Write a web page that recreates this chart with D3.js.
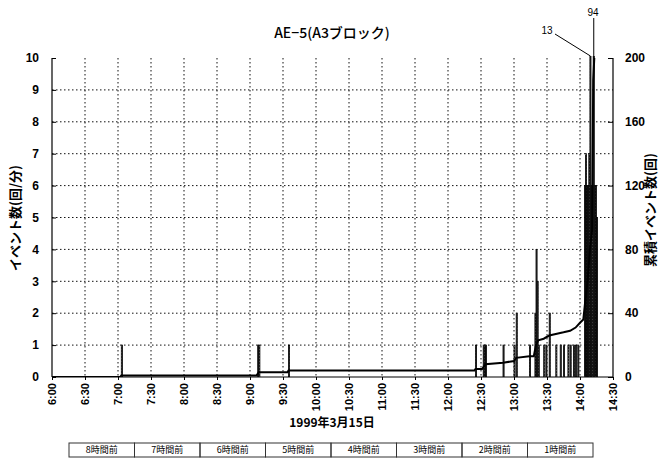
<!DOCTYPE html>
<html><head><meta charset="utf-8">
<script src="https://cdn.jsdelivr.net/npm/d3@7"></script>
<style>
html,body{margin:0;padding:0;background:#fff;}
svg{display:block;font-family:"Liberation Sans","DejaVu Sans",sans-serif;}
</style></head>
<body>
<svg id="chart" width="663" height="463"></svg>
<script>
// ---- data ----
const chartTitle = "AE\u22125(A3ブロック)";
const xTitle = "1999年3月15日";
const yLeftTitle = "イベント数(回/分)";
const yRightTitle = "累積イベント数(回)";
const xTickLabels = ["6:00","6:30","7:00","7:30","8:00","8:30","9:00","9:30","10:00","10:30","11:00","11:30","12:00","12:30","13:00","13:30","14:00","14:30"];
const yLeftTicks = [0,1,2,3,4,5,6,7,8,9,10];
const yRightTicks = [0,40,80,120,160,200];
// events per minute (bar series)
const barTimes = ["7:03","9:07","9:08","9:35","12:25","12:32","12:33","12:34","12:50","13:00","13:02","13:14",
  "13:19","13:20","13:21","13:22","13:27","13:29","13:32","13:38","13:42","13:45","13:49","13:51","13:54","13:56","13:58",
  "14:04","14:05","14:06","14:07","14:08","14:09","14:10","14:11","14:12","14:13","14:14","14:15"];
const barValues = [1,1,1,1,1,1,1,1,1,1,2,1,
  2,4,3,1,1,1,2,1,1,1,1,1,1,1,1,
  6,7,6,6,7,13,6,6,94,6,6,5];
// cumulative events (line series, right axis)
const cumTimes = ["6:00","7:02","7:03","9:06","9:08","9:34","9:35","12:24","12:25","12:31","12:34","12:50","13:00","13:02","13:14","13:18",
  "13:20","13:22","13:27","13:32","13:38","13:45","13:51","13:56","14:00","14:03","14:05","14:07","14:09","14:11","14:12","14:13"];
const cumValues = [0,0,1,1,3,3,4,4,5,5,8,9,10,12,13,13,
  20,23,24,26,27,28,29,31,34,36,49,61,80,92,186,200];
const bandLabels = ["8時間前","7時間前","6時間前","5時間前","4時間前","3時間前","2時間前","1時間前"];
const annoLabels = ["13","94"];

// ---- helpers ----
const toDate = s => { const [h,m] = s.split(":").map(Number); return new Date(1999,2,15,h,m); };

const svg = d3.select("#chart");
const L = 52, R = 613, T = 58, B = 377;

const x = d3.scaleTime().domain([toDate("6:00"), toDate("14:30")]).range([L, R]);
const yL = d3.scaleLinear().domain([0,10]).range([B, T]);
const yR = d3.scaleLinear().domain([0,200]).range([B, T]);

const defs = svg.append("defs");
defs.append("clipPath").attr("id","clip")
  .append("rect").attr("x",L).attr("y",T-2).attr("width",R-L).attr("height",B-T+2);
const pat = defs.append("pattern").attr("id","stipple").attr("patternUnits","userSpaceOnUse")
  .attr("width",3).attr("height",3);
pat.append("rect").attr("width",3).attr("height",3).attr("fill","#3c3c3c");
pat.append("rect").attr("x",1).attr("y",1).attr("width",1).attr("height",1).attr("fill","#bbb");

// grid
const tickDates = xTickLabels.map(toDate);
svg.append("g").selectAll("line").data(tickDates.slice(1,-1)).join("line")
  .attr("x1",d=>x(d)).attr("x2",d=>x(d)).attr("y1",T).attr("y2",B)
  .attr("stroke","#111").attr("stroke-width",1).attr("stroke-dasharray","1.5,2.5");
svg.append("g").selectAll("line").data(yLeftTicks.slice(1,-1)).join("line")
  .attr("x1",L).attr("x2",R).attr("y1",d=>yL(d)).attr("y2",d=>yL(d))
  .attr("stroke","#111").attr("stroke-width",1).attr("stroke-dasharray","1.5,2.5");

// bars
const bars = barTimes.map((t,i)=>({t:toDate(t), v:barValues[i]}));
svg.append("g").attr("clip-path","url(#clip)").selectAll("rect").data(bars).join("rect")
  .attr("x",d=>x(d.t))
  .attr("width",d=>Math.max(0.6, x(d3.timeMinute.offset(d.t,1))-x(d.t)))
  .attr("y",d=>yL(d.v))
  .attr("height",d=>B-yL(d.v))
  .attr("fill","url(#stipple)")
  .attr("stroke","#000").attr("stroke-width",0.8);

// cumulative line
const cum = cumTimes.map((t,i)=>({t:toDate(t), v:cumValues[i]}));
svg.append("path").datum(cum).attr("clip-path","url(#clip)")
  .attr("d", d3.line().x(d=>x(d.t)).y(d=>yR(d.v)))
  .attr("fill","none").attr("stroke","#000").attr("stroke-width",2);

// axes
const axL = svg.append("g").attr("transform",`translate(${L},0)`)
  .call(d3.axisRight(yL).tickValues(yLeftTicks).tickSize(4).tickFormat(""));
const axR = svg.append("g").attr("transform",`translate(${R},0)`)
  .call(d3.axisLeft(yR).tickValues(yRightTicks).tickSize(5).tickFormat(""));
const axB = svg.append("g").attr("transform",`translate(0,${B})`)
  .call(d3.axisBottom(x).tickValues(tickDates).tickSize(3).tickFormat((d,i)=>xTickLabels[i]));
[axL,axR,axB].forEach(a=>{a.select(".domain").attr("stroke","#000").attr("stroke-width",1.2); a.selectAll(".tick line").attr("stroke","#000");});
axB.select(".domain").attr("d",`M${L},0H${R}`);
axL.select(".domain").attr("d",`M0,${B}V${T}`);
axR.select(".domain").attr("d",`M0,${B}V${T}`);
axB.selectAll(".tick text")
  .attr("transform","rotate(-90)").attr("text-anchor","end")
  .attr("x",-6).attr("y",0).attr("dy","0.35em")
  .attr("font-size",11).attr("font-weight","bold").attr("fill","#000")
  .attr("font-family","'Liberation Sans','DejaVu Sans',sans-serif");

// left tick labels
svg.append("g").selectAll("text").data(yLeftTicks).join("text")
  .attr("x",39).attr("y",d=>yL(d)).attr("dy","0.35em").attr("text-anchor","end")
  .attr("font-size",12).attr("font-weight","bold").text(d=>d);
// right tick labels
svg.append("g").selectAll("text").data(yRightTicks).join("text")
  .attr("x",625).attr("y",d=>yR(d)).attr("dy","0.35em").attr("text-anchor","start")
  .attr("font-size",12).attr("font-weight","bold").text(d=>d);

// titles
svg.append("text").attr("x",332).attr("y",33).attr("dy","0.35em").attr("text-anchor","middle")
  .attr("font-size",14).attr("font-weight","500").attr("font-family","'Noto Sans CJK JP',sans-serif").text(chartTitle);
svg.append("text").attr("transform",`translate(15,218) rotate(-90)`).attr("dy","0.35em").attr("text-anchor","middle")
  .attr("font-size",13).attr("font-weight","bold").attr("font-family","'Noto Sans CJK JP',sans-serif").text(yLeftTitle);
svg.append("text").attr("transform",`translate(650,210) rotate(-90)`).attr("dy","0.35em").attr("text-anchor","middle")
  .attr("font-size",13).attr("font-weight","bold").attr("font-family","'Noto Sans CJK JP',sans-serif").text(yRightTitle);
svg.append("text").attr("x",332).attr("y",423).attr("dy","0.35em").attr("text-anchor","middle")
  .attr("font-size",12).attr("font-weight","bold").attr("font-family","'Noto Sans CJK JP',sans-serif").text(xTitle);

// annotations for clipped bars
const clipped = bars.filter(d=>d.v>10);
const annoPos = [{lx:547, ly:30, anchor:"middle"},{lx:593, ly:12, anchor:"middle"}];
clipped.forEach((d,i)=>{
  const bx = x(d.t) + (x(d3.timeMinute.offset(d.t,1))-x(d.t))/2;
  const p = annoPos[i];
  if(i===0){
    svg.append("line").attr("x1",p.lx+8).attr("y1",p.ly+4).attr("x2",bx).attr("y2",T-2).attr("stroke","#000").attr("stroke-width",1);
  } else {
    svg.append("line").attr("x1",bx).attr("y1",p.ly+6).attr("x2",bx).attr("y2",T).attr("stroke","#000").attr("stroke-width",1);
  }
  svg.append("text").attr("x",p.lx).attr("y",p.ly).attr("dy","0.35em").attr("text-anchor",p.anchor)
    .attr("font-size",10).text(annoLabels[i]);
});

// time-before band
const bandX = d3.scaleBand().domain(bandLabels).range([69,593]);
const band = svg.append("g");
band.selectAll("rect").data(bandLabels).join("rect")
  .attr("x",d=>bandX(d)).attr("y",443).attr("width",bandX.bandwidth()).attr("height",14)
  .attr("fill","none").attr("stroke","#333").attr("stroke-width",1);
band.selectAll("text").data(bandLabels).join("text")
  .attr("x",d=>bandX(d)+bandX.bandwidth()/2).attr("y",450).attr("dy","0.35em").attr("text-anchor","middle")
  .attr("font-size",9).attr("font-family","'Noto Sans CJK JP',sans-serif").text(d=>d);
</script>
</body></html>
